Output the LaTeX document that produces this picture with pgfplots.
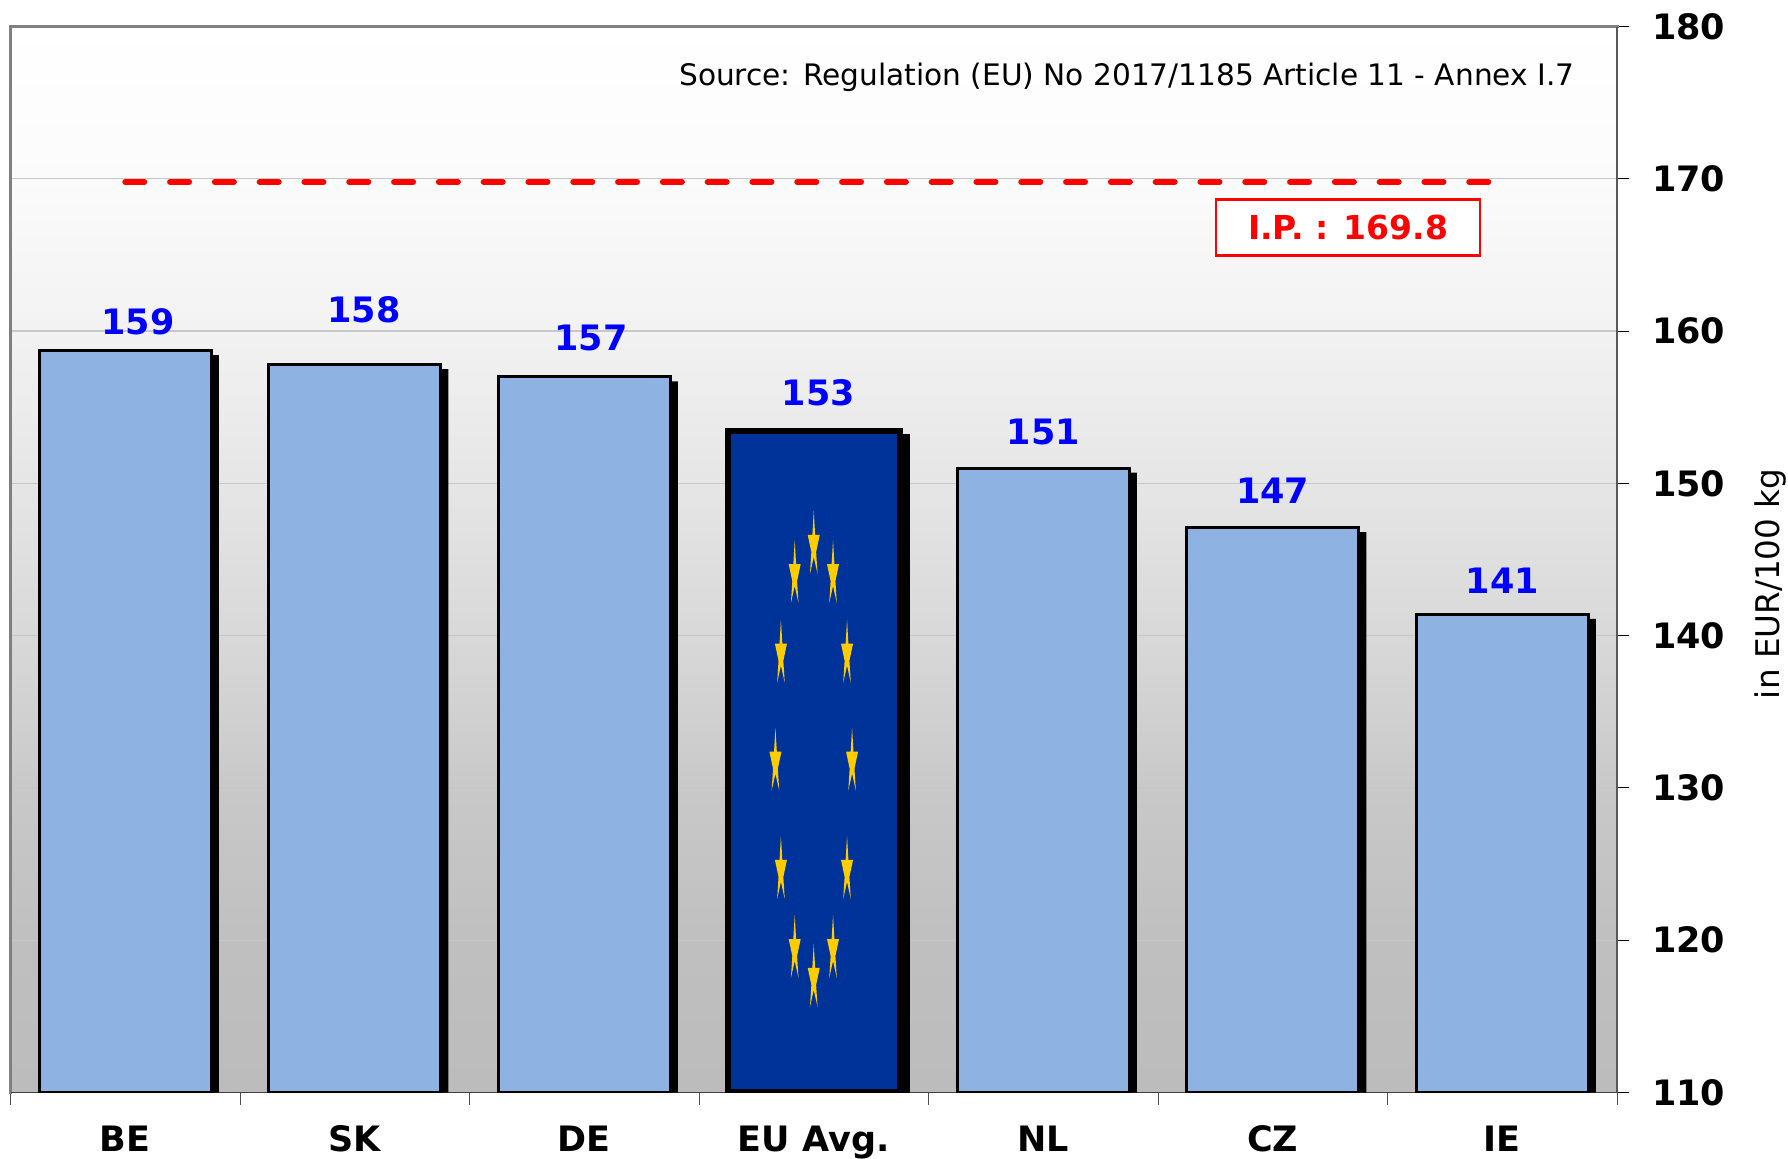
\documentclass[border=0pt]{standalone}
\usepackage{fontspec}
\setmainfont{DejaVu Sans}
\usepackage{pgfplots}
\pgfplotsset{compat=1.18}
\usepackage{pgfplotstable}
\definecolor{barblue}{HTML}{8EB2E2}
\definecolor{eublue}{HTML}{003399}
\definecolor{euyellow}{HTML}{FFCC00}
\definecolor{frameg}{HTML}{808080}
\pgfdeclareverticalshading{bggrad}{100bp}{
  rgb(0bp)=(0.737,0.737,0.737);
  rgb(25bp)=(0.737,0.737,0.737);
  rgb(32bp)=(0.75,0.75,0.75);
  rgb(39bp)=(0.785,0.785,0.785);
  rgb(46bp)=(0.845,0.845,0.845);
  rgb(53.5bp)=(0.90,0.90,0.90);
  rgb(61bp)=(0.95,0.95,0.95);
  rgb(68bp)=(0.985,0.985,0.985);
  rgb(75bp)=(1,1,1);
  rgb(100bp)=(1,1,1)}
\pgfdeclareplotmark{eustar}{%
  \pgfpathmoveto{\pgfpoint{0pt}{12pt}}
  \pgfpathlineto{\pgfpoint{0.7pt}{0pt}}
  \pgfpathlineto{\pgfpoint{3pt}{0pt}}
  \pgfpathlineto{\pgfpoint{1.2pt}{-8.5pt}}
  \pgfpathlineto{\pgfpoint{1.9pt}{-19.5pt}}
  \pgfpathlineto{\pgfpoint{0pt}{-11pt}}
  \pgfpathlineto{\pgfpoint{-1.9pt}{-19.5pt}}
  \pgfpathlineto{\pgfpoint{-1.2pt}{-8.5pt}}
  \pgfpathlineto{\pgfpoint{-3pt}{0pt}}
  \pgfpathlineto{\pgfpoint{-0.7pt}{0pt}}
  \pgfpathclose
  \pgfusepathqfill}
\pgfplotstableread{
x v
0 158.72
1 157.8
2 157.0
4 151.0
5 147.1
6 141.4
}\regular
\pgfplotstableread{
x v
0 158.42
1 157.5
2 156.7
4 150.7
5 146.8
6 141.1
}\regularshadow
\pgfplotstableread{
x v
3 153.44
}\eu
\pgfplotstableread{
x v
3 153.26
}\eushadow
\pgfplotstableread[col sep=space]{
x y t
0.055 160.6 159
1.04 161.4 158
2.03 159.55 157
3.02 155.95 153
4.0 153.35 151
5.0 149.5 147
6.0 143.6 141
}\labels
\begin{document}
\begin{tikzpicture}
\path[use as bounding box] (0,0) rectangle (894pt,579pt);
\begin{axis}[
  at={(5.25pt,32.75pt)},anchor=south west,
  scale only axis,width=803.25pt,height=533pt,
  xmin=-0.5,xmax=6.5,ymin=110,ymax=180,
  clip mode=individual,
  axis line style={draw=none},
  axis background/.style={shade,shading=bggrad},
  ytick={110,120,...,180},
  ymajorgrids,
  grid style={draw=black!22,line width=0.6pt},
  ytick pos=right,yticklabel pos=right,
  xtick pos=bottom,
  xtick={0,...,6},
  xticklabels={BE,SK,DE,EU Avg.,NL,CZ,IE},
  minor xtick={-0.5,0.5,...,6.5},
  tick align=outside,
  major tick length=6pt,
  minor tick length=6pt,
  x tick style={draw=none},
  minor x tick style={draw=black!70,line width=0.5pt},
  y tick style={draw=black,line width=0.5pt},
  minor y tick style={draw=none},
  tick label style={font=\fontsize{17.5}{20}\selectfont\bfseries},
  /pgf/number format/assume math mode=true,
  yticklabel style={anchor=west,xshift=8pt},
  xticklabel style={anchor=base,yshift=-23.5pt},
]
\draw[frameg,line width=1.8pt,line cap=rect] (rel axis cs:0,0)--(rel axis cs:0,1)--(rel axis cs:1,1);
\draw[black!65,line width=1pt] (rel axis cs:1,0)--(rel axis cs:1,1);
\draw[black!75,line width=0.5pt] (rel axis cs:0,0)--(rel axis cs:1,0);
\addplot[ybar,bar width=87.6pt,bar shift=3pt,fill=black,draw=none] table[x=x,y=v] {\regularshadow};
\addplot[ybar,bar width=86.1pt,bar shift=0pt,fill=barblue,draw=black,line width=1.5pt] table[x=x,y=v] {\regular};
\addplot[ybar,bar width=89pt,bar shift=3.5pt,fill=black,draw=none] table[x=x,y=v] {\eushadow};
\addplot[ybar,bar width=86pt,bar shift=0pt,fill=eublue,draw=black,line width=3.2pt] table[x=x,y=v] {\eu};
\addplot[only marks,mark=eustar,euyellow] coordinates {
 (3.0,146.61) (2.917,144.70) (3.084,144.70) (2.857,139.47) (3.145,139.47)
 (2.833,132.38) (3.167,132.38) (2.857,125.27) (3.145,125.27)
 (2.917,120.08) (3.084,120.08) (3.0,118.18)};
\addplot[red,line width=3pt,line cap=round,dash pattern=on 9.5pt off 12.9pt] coordinates {(0,169.8) (6,169.8)};
\addplot[only marks,mark=none,
  nodes near coords,point meta=explicit symbolic,
  nodes near coords align={center},
  every node near coord/.append style={blue,font=\fontsize{17.5}{20}\selectfont\bfseries,anchor=center}]
  table[x=x,y=y,meta=t] {\labels};
\node[draw=red,line width=1.1pt,fill=white,text=red,minimum width=132pt,minimum height=28pt,inner sep=0pt,
  font=\fontsize{16.5}{19}\selectfont\bfseries] at (axis cs:5.328,166.8) {I.P. : 169.8};
\node[anchor=east,font=\fontsize{14.8}{17}\selectfont] at (axis cs:6.345,176.68) {Source: Regulation (EU) No 2017/1185 Article 11 - Annex I.7};
\node[rotate=90,font=\fontsize{16.3}{19}\selectfont] at (axis cs:7.167,143.4) {in EUR/100 kg};
\end{axis}
\end{tikzpicture}
\end{document}
